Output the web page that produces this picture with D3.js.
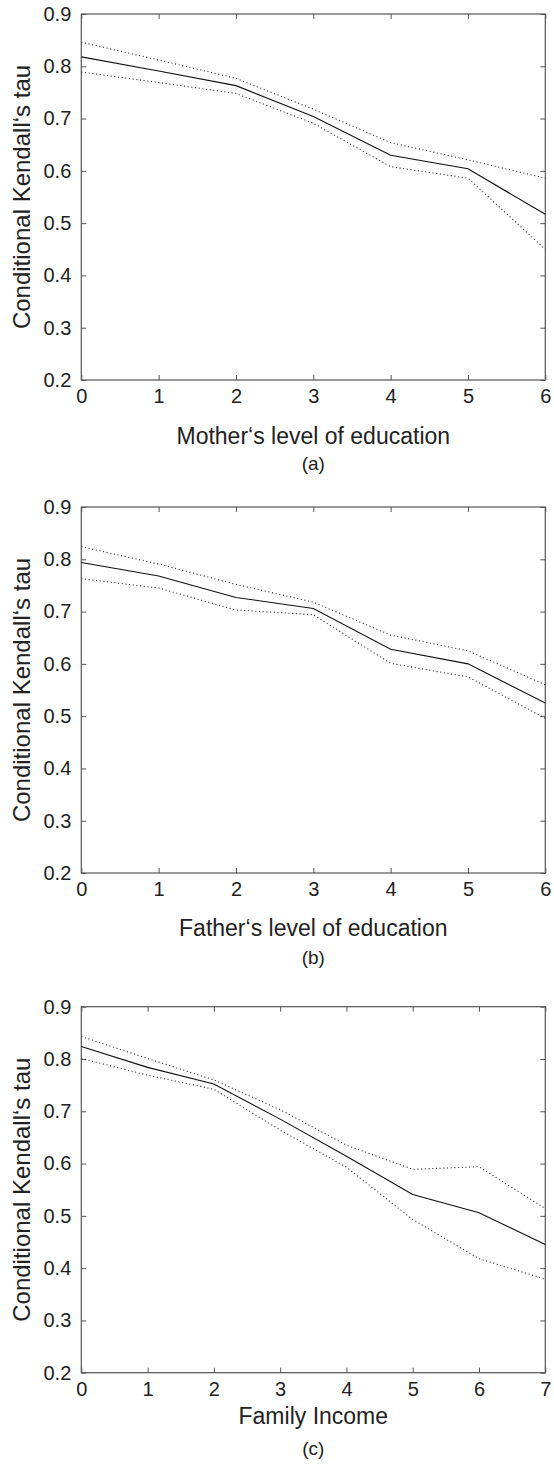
<!DOCTYPE html>
<html><head><meta charset="utf-8">
<script src="https://cdn.jsdelivr.net/npm/d3@7"></script>
<style>body{margin:0;background:#fff}svg{display:block}text{font-family:"Liberation Sans",Arial,Helvetica,sans-serif;fill:#222}</style>
</head><body>
<script>
// Data
const xA = [0,1,2,3,4,5,6];
const tauA   = [0.818,0.791,0.763,0.704,0.630,0.604,0.517];
const upperA = [0.846,0.812,0.777,0.718,0.654,0.621,0.586];
const lowerA = [0.789,0.769,0.748,0.691,0.608,0.586,0.450];

const xB = [0,1,2,3,4,5,6];
const tauB   = [0.794,0.768,0.727,0.706,0.628,0.600,0.525];
const upperB = [0.824,0.791,0.752,0.718,0.655,0.625,0.560];
const lowerB = [0.763,0.745,0.703,0.694,0.601,0.575,0.496];

const xC = [0,1,2,3,4,5,6,7];
const tauC   = [0.824,0.784,0.752,0.685,0.614,0.541,0.506,0.445];
const upperC = [0.843,0.801,0.760,0.703,0.635,0.589,0.594,0.514];
const lowerC = [0.801,0.769,0.742,0.664,0.593,0.493,0.418,0.379];

const yTicks = [0.2,0.3,0.4,0.5,0.6,0.7,0.8,0.9];
const yTitle = "Conditional Kendall\u2018s tau";
const panels = [
  {x:xA, tau:tauA, up:upperA, lo:lowerA, xmax:6, xlabel:"Mother\u2018s level of education", tag:"(a)"},
  {x:xB, tau:tauB, up:upperB, lo:lowerB, xmax:6, xlabel:"Father\u2018s level of education", tag:"(b)"},
  {x:xC, tau:tauC, up:upperC, lo:lowerC, xmax:7, xlabel:"Family Income", tag:"(c)"}
];

const W=554, H=1466;
const L=81.3, R=545.3, PH=366;
const tops=[14,507,1006.7];
const xTitleDy=[64,63,51];
const tagDy=[90,91,82];

const svg=d3.select("body").append("svg").attr("width",W).attr("height",H);

panels.forEach((p,i)=>{
  const top=tops[i], bot=top+PH;
  const x=d3.scaleLinear().domain([0,p.xmax]).range([L,R]);
  const y=d3.scaleLinear().domain([0.2,0.9]).range([bot,top]);
  const g=svg.append("g");
  const xt=d3.range(0,p.xmax+1);
  const axisStyle=a=>{a.select(".domain").remove();a.selectAll("line").attr("stroke","#555").attr("stroke-width",1);a.selectAll("text").attr("fill","#222").style("font-size","20px");};
  g.append("g").attr("transform",`translate(0,${bot})`)
    .call(d3.axisBottom(x).tickValues(xt).tickFormat(d3.format("d")).tickSizeInner(-5).tickSizeOuter(0).tickPadding(9))
    .call(axisStyle);
  g.append("g").attr("transform",`translate(0,${top})`)
    .call(d3.axisTop(x).tickValues(xt).tickFormat("").tickSizeInner(-5).tickSizeOuter(0))
    .call(axisStyle);
  g.append("g").attr("transform",`translate(${L},0)`)
    .call(d3.axisLeft(y).tickValues(yTicks).tickFormat(d3.format(".1f")).tickSizeInner(-5).tickSizeOuter(0).tickPadding(10))
    .call(axisStyle);
  g.append("g").attr("transform",`translate(${R},0)`)
    .call(d3.axisRight(y).tickValues(yTicks).tickFormat("").tickSizeInner(-5).tickSizeOuter(0))
    .call(axisStyle);
  g.append("rect").attr("x",L).attr("y",top).attr("width",R-L).attr("height",PH)
    .attr("fill","none").attr("stroke","#555").attr("stroke-width",1.2);

  const line=d3.line().x(d=>x(d[0])).y(d=>y(d[1]));
  const mk=arr=>p.x.map((v,k)=>[v,arr[k]]);
  g.append("path").attr("d",line(mk(p.up))).attr("fill","none").attr("stroke","#333").attr("stroke-width",1.1).attr("stroke-dasharray","1.1,2.6");
  g.append("path").attr("d",line(mk(p.lo))).attr("fill","none").attr("stroke","#333").attr("stroke-width",1.1).attr("stroke-dasharray","1.1,2.6");
  g.append("path").attr("d",line(mk(p.tau))).attr("fill","none").attr("stroke","#111").attr("stroke-width",1.1);

  g.append("text").attr("x",(L+R)/2).attr("y",bot+xTitleDy[i]).attr("text-anchor","middle").style("font-size","23px").text(p.xlabel);
  g.append("text").attr("x",(L+R)/2).attr("y",bot+tagDy[i]).attr("text-anchor","middle").style("font-size","19px").text(p.tag);
  g.append("text").attr("transform",`translate(30,${(top+bot)/2}) rotate(-90)`).attr("text-anchor","middle").style("font-size","24px").text(yTitle);
});
</script>
</body></html>
